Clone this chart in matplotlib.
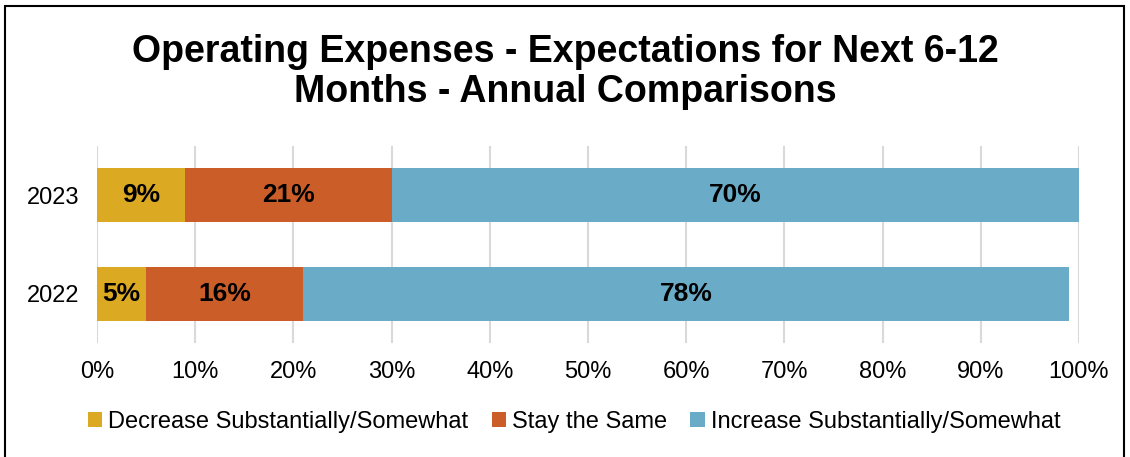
import matplotlib
matplotlib.use("Agg")
from matplotlib import pyplot as plt
from matplotlib.patches import Rectangle

plt.rcParams['font.family'] = ['Liberation Sans', 'DejaVu Sans']

years = ['2022', '2023']
decrease = [5, 9]
same = [16, 21]
increase = [78, 70]
series_names = ['Decrease Substantially/Somewhat', 'Stay the Same', 'Increase Substantially/Somewhat']
colors = ['#DCA923', '#CB5E28', '#6AACC8']
title = 'Operating Expenses - Expectations for Next 6-12\nMonths - Annual Comparisons'

fig = plt.figure(figsize=(11.3, 4.57), dpi=100)
ax = fig.add_axes([0.0858, 0.2495, 0.869, 0.431])

ypos = range(len(years))
left = [0] * len(years)
for vals, name, c in zip([decrease, same, increase], series_names, colors):
    bars = ax.barh(ypos, vals, left=left, height=0.545, color=c, label=name, zorder=3)
    for b, v in zip(bars, vals):
        ax.text(b.get_x() + b.get_width() / 2, b.get_y() + b.get_height() / 2, f'{v}%',
                ha='center', va='center', fontsize=19, fontweight='bold', zorder=4)
    left = [l + v for l, v in zip(left, vals)]

ax.set_xlim(0, 100)
ax.set_ylim(-0.5, 1.5)
ax.set_yticks(list(ypos))
ax.set_yticklabels(years, fontsize=17)
ax.set_xticks(range(0, 101, 10))
ax.set_xticklabels([f'{x}%' for x in range(0, 101, 10)], fontsize=17)
ax.tick_params(length=0)
ax.tick_params(axis='x', pad=13)
ax.tick_params(axis='y', pad=13)
ax.grid(axis='x', color='#D9D9D9', linewidth=1.5, zorder=0)
for s in ax.spines.values():
    s.set_visible(False)

fig.suptitle(title, fontsize=27, fontweight='bold', y=0.925, linespacing=1.15)

fig.legend(loc='center', bbox_to_anchor=(0.508, 0.077), ncol=3, frameon=False, fontsize=17,
           handlelength=0.6, handleheight=0.6, handletextpad=0.25, columnspacing=1.0)

fig.patches.append(Rectangle((5 / 1130, -0.05), 1119 / 1130, 1.05 - 6 / 457, transform=fig.transFigure,
                             fill=False, edgecolor='black', linewidth=1.5))

fig.savefig('out.png', dpi=100)
